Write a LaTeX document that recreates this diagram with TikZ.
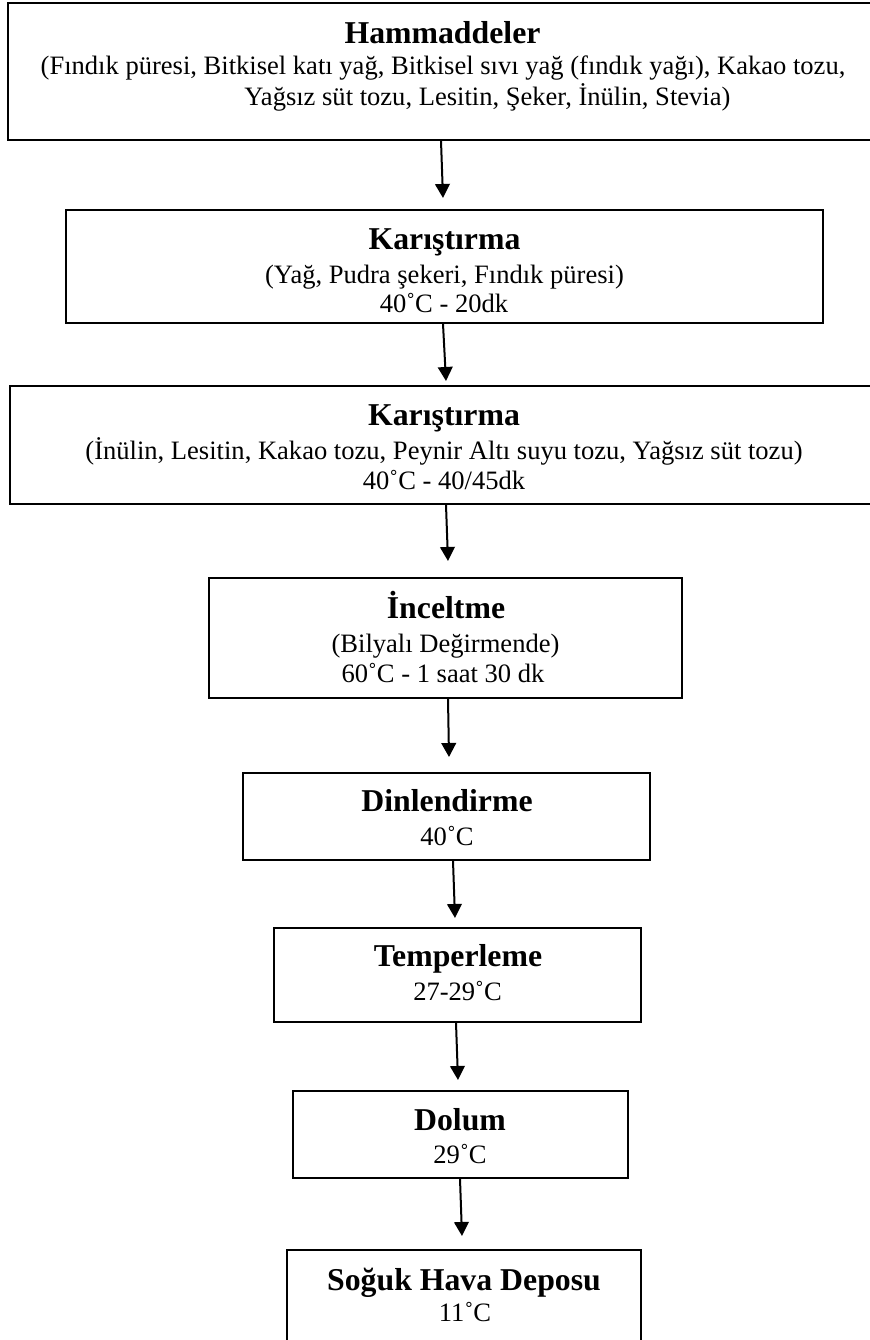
\documentclass[tikz,border=0pt]{standalone}
\usepackage{fontspec}
\setmainfont{Liberation Serif}
\usetikzlibrary{arrows.meta,calc}
\tikzset{
  box/.style={draw, line width=0.9pt, inner sep=0pt, rectangle},
  ttl/.style={anchor=base, inner sep=0pt, font=\fontsize{14.3pt}{16pt}\selectfont\bfseries},
  txt/.style={anchor=base, inner sep=0pt, font=\fontsize{11.95pt}{14pt}\selectfont},
  arr/.style={line width=0.9pt, -{Triangle[length=6.3pt,width=6.6pt]}},
}
\begin{document}
\begin{tikzpicture}[x=0.45pt,y=-0.45pt]
\useasboundingbox (0,0) rectangle (869,1340);
% boxes
\node[box, minimum width=388.8pt, minimum height=61.65pt] (b1) at (440,71.5) {};
\node[box, minimum width=340.43pt, minimum height=50.85pt] (b2) at (444.75,266.5) {};
\node[box, minimum width=387.9pt, minimum height=53.1pt] (b3) at (441,445) {};
\node[box, minimum width=212.85pt, minimum height=54pt] (b4) at (445.5,638) {};
\node[box, minimum width=183.15pt, minimum height=39.15pt] (b5) at (446.5,816.5) {};
\node[box, minimum width=165.15pt, minimum height=42.3pt] (b6) at (457.5,975) {};
\node[box, minimum width=150.75pt, minimum height=39.15pt] (b7) at (460.5,1134.5) {};
\node[box, minimum width=159.3pt, minimum height=41.85pt] (b8) at (464,1296.5) {};
% texts
\node[ttl] (t1a) at (442.5,43.3) {Hammaddeler};
\node[txt] (t1b) at (443,75) {(Fındık püresi, Bitkisel katı yağ, Bitkisel sıvı yağ (fındık yağı), Kakao tozu,};
\node[txt, anchor=base west] (t1c) at (244,106) {Yağsız süt tozu, Lesitin, Şeker, İnülin, Stevia)};
\node[ttl] (t2a) at (444.5,250) {Karıştırma};
\node[txt] (t2b) at (444.5,283.3) {(Yağ, Pudra şekeri, Fındık püresi)};
\node[txt] (t2c) at (444,312.7) {40˚C - 20dk};
\node[ttl] (t3a) at (444,425) {Karıştırma};
\node[txt] (t3b) at (444,459.5) {(İnülin, Lesitin, Kakao tozu, Peynir Altı suyu tozu, Yağsız süt tozu)};
\node[txt] (t3c) at (444,489.5) {40˚C - 40/45dk};
\node[ttl] (t4a) at (446,618) {İnceltme};
\node[txt] (t4b) at (445.5,652.5) {(Bilyalı Değirmende)};
\node[txt] (t4c) at (443,682.5) {60˚C - 1 saat 30 dk};
\node[ttl] (t5a) at (447,811) {Dinlendirme};
\node[txt] (t5b) at (447,845) {40˚C};
\node[ttl] (t6a) at (458,966) {Temperleme};
\node[txt] (t6b) at (457.5,1000.5) {27-29˚C};
\node[ttl] (t7a) at (460,1130) {Dolum};
\node[txt] (t7b) at (460,1163.5) {29˚C};
\node[ttl] (t8a) at (464,1290) {Soğuk Hava Deposu};
\node[txt] (t8b) at (465,1321.5) {11˚C};
% arrows
\draw[arr] ($(b1.south)+(1,0)$) -- ($(b2.north)+(-1.75,-11)$);
\draw[arr] ($(b2.south)+(-1.75,0)$) -- ($(b3.north)+(5,-4)$);
\draw[arr] ($(b3.south)+(5,0)$) -- ($(b4.north)+(2.5,-16)$);
\draw[arr] ($(b4.south)+(2.5,0)$) -- ($(b5.north)+(2.5,-15)$);
\draw[arr] ($(b5.south)+(6.5,0)$) -- ($(b6.north)+(-2.5,-9)$);
\draw[arr] ($(b6.south)+(-1.5,0)$) -- ($(b7.north)+(-2.5,-10)$);
\draw[arr] ($(b7.south)+(-0.5,0)$) -- ($(b8.north)+(-2,-13)$);
\end{tikzpicture}
\end{document}
